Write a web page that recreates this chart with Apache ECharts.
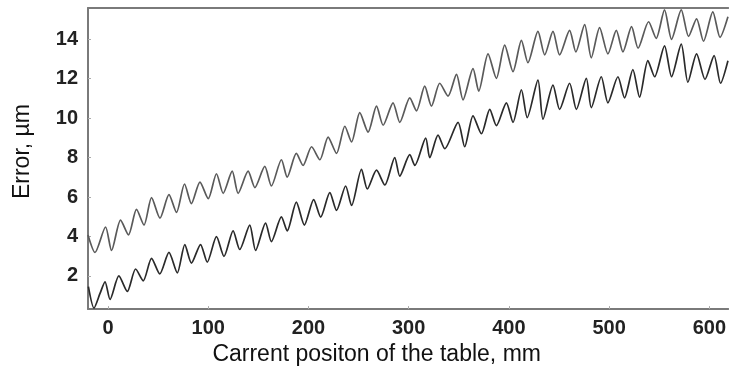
<!DOCTYPE html>
<html>
<head>
<meta charset="utf-8">
<script src="https://cdn.jsdelivr.net/npm/echarts@6/dist/echarts.min.js"></script>
<style>
html,body{margin:0;padding:0;background:#fff;}
#chart{width:729px;height:371px;}
</style>
</head>
<body>
<div id="chart"></div>
<script>
// Axis ticks
var xTicks = [0, 100, 200, 300, 400, 500, 600];
var yTicks = [2, 4, 6, 8, 10, 12, 14];

// Upper curve (peaks and troughs)
var upperX = [-20,-13,-2.5,3.5,12.5,20.4,28.4,35.9,43.4,51.8,60.8,68.3,76.3,83.2,91.7,100,108.2,114.9,123.9,129.8,139.8,146.5,156.4,163,173,178.8,187.9,194.6,203.1,211.4,219.6,228,236.3,243,251.2,259.5,267.9,274.5,284.4,291.1,301.1,307.8,316,322.7,331,339.3,347.7,354.2,364.2,369.9,379.2,387.5,395.8,404.1,412.5,419,429,435.7,444,450.6,460.6,466.8,475.6,482.2,490.5,498.8,507.2,513.8,522.4,528.9,539.4,547,555.3,562.3,572,579.3,587.3,594.2,603.5,610.7,618.6];
var upperY = [4.08,3.19,4.48,3.29,4.83,4.08,5.37,4.58,5.97,4.93,6.12,5.22,6.66,5.67,6.76,5.92,7.18,6.19,7.31,6.19,7.31,6.48,7.55,6.56,7.89,7.01,8.21,7.60,8.55,7.89,9.04,8.21,9.59,8.79,10.28,9.29,10.61,9.64,10.78,9.79,11.03,10.37,11.62,10.61,11.77,11.12,12.22,10.93,12.51,11.37,13.26,12.02,13.70,12.36,13.95,12.81,14.40,13.21,14.40,13.21,14.45,13.36,14.74,13.06,14.59,13.26,14.45,13.36,14.64,13.55,14.89,14.05,15.49,14.00,15.49,14.15,15.04,13.90,15.39,14.10,15.14];

// Lower curve
var lowerX = [-19.6,-14,-8,-3,2,10.8,19.2,27.5,35.1,43.4,51.6,60.8,69.1,76.6,83.2,92.3,99,108.2,115.7,124.8,131.4,141.4,147.2,157.2,163,173,178.8,187.9,195.9,205.2,212.2,221.3,228,237.1,243,252.9,258.7,267.9,276.2,286.1,291.1,301.1,306.1,317,321,329.3,336,349.3,355.9,364.2,372.6,380.9,387.5,397.5,404.1,412.5,418.3,429,434,444,450.6,460.6,467.3,477.3,482.2,492.2,498.8,508.8,515.4,523.7,530.4,538.7,545.4,555.3,562.3,572,578.6,587.3,595.7,604.8,611.2,618.6];
var lowerY = [1.46,0.37,1.11,1.70,0.81,2.00,1.21,2.35,1.75,2.89,2.10,3.19,2.15,3.59,2.65,3.59,2.70,3.99,2.99,4.28,3.34,4.58,3.29,4.68,3.74,4.99,4.28,5.74,4.58,5.87,4.98,6.22,5.32,6.56,5.57,7.41,6.41,7.36,6.61,8.00,7.06,8.15,7.60,8.99,8.00,9.14,8.45,9.79,8.55,10.12,9.21,10.45,9.62,10.78,9.79,11.44,10.03,11.93,9.95,11.68,10.45,11.77,10.45,12.02,10.53,12.10,10.78,12.10,11.03,12.46,11.07,12.92,12.10,13.67,12.10,13.75,11.82,13.26,11.97,13.17,11.77,12.91];

function zip(xs, ys) { return xs.map(function (x, i) { return [x, ys[i]]; }); }

var chart = echarts.init(document.getElementById('chart'), null, {renderer: 'canvas'});
var axisColor = '#7a7a7a';
var font = '"Liberation Sans", Arial, Helvetica, sans-serif';

chart.setOption({
  animation: false,
  backgroundColor: '#ffffff',
  grid: {left: 88, right: 0, top: 8, bottom: 55, containLabel: false},
  xAxis: [{
    type: 'value',
    min: -20,
    max: 619,
    position: 'bottom',
    name: 'Carrent positon of the table, mm',
    nameLocation: 'middle',
    nameGap: 30,
    nameTextStyle: {fontFamily: font, fontSize: 23, color: '#111', padding: [0, 63, 0, 0]},
    axisLine: {show: true, onZero: false, lineStyle: {color: axisColor, width: 2}},
    axisTick: {show: true, inside: true, length: 3, customValues: xTicks, lineStyle: {color: '#aaa', width: 1}},
    axisLabel: {show: true, customValues: xTicks, margin: 9, fontFamily: font, fontSize: 20, fontWeight: 'bold', color: '#222'},
    splitLine: {show: false}
  }, {
    type: 'value',
    min: -20,
    max: 619,
    position: 'top',
    axisLine: {show: true, onZero: false, lineStyle: {color: axisColor, width: 2}},
    axisTick: {show: false},
    axisLabel: {show: false},
    splitLine: {show: false}
  }],
  yAxis: {
    type: 'value',
    min: 0.316,
    max: 15.587,
    name: 'Error, \u00b5m',
    nameLocation: 'middle',
    nameGap: 54,
    nameTextStyle: {fontFamily: font, fontSize: 23, color: '#111', padding: [0, 0, 0, 14]},
    axisLine: {show: true, onZero: false, lineStyle: {color: axisColor, width: 2}},
    axisTick: {show: true, inside: true, length: 3, customValues: yTicks, lineStyle: {color: '#aaa', width: 1}},
    axisLabel: {show: true, customValues: yTicks, margin: 10, fontFamily: font, fontSize: 20, fontWeight: 'bold', color: '#222'},
    splitLine: {show: false}
  },
  series: [{
    name: 'upper',
    type: 'line',
    xAxisIndex: 0,
    data: zip(upperX, upperY),
    showSymbol: false,
    smooth: 0.25,
    lineStyle: {color: '#5a5a5a', width: 1.7},
    z: 3
  }, {
    name: 'lower',
    type: 'line',
    xAxisIndex: 0,
    data: zip(lowerX, lowerY),
    showSymbol: false,
    smooth: 0.25,
    lineStyle: {color: '#2a2a2a', width: 1.7},
    z: 4
  }]
});
</script>
</body>
</html>
